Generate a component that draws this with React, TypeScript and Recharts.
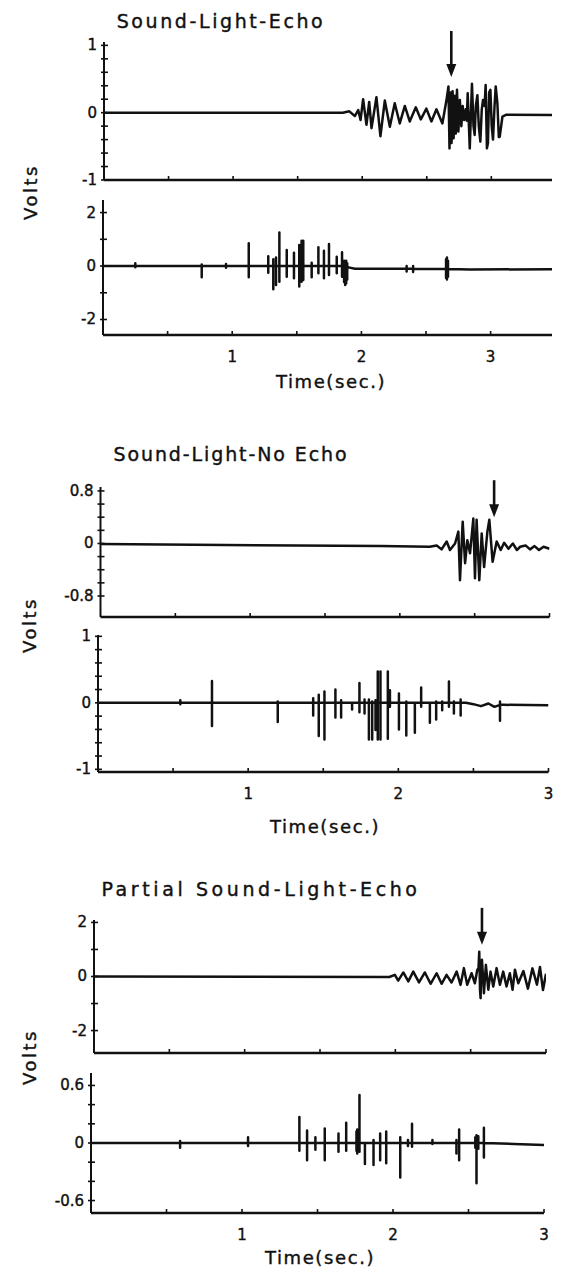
import React from 'react';
import { LineChart, Line, XAxis, YAxis, ReferenceDot } from 'recharts';

type Pt = [number, number];
// t, high, low, baseline (defaults to 0)
type Spike = [number, number, number, number?];

const INK = '#111';
const FONT = "'DejaVu Sans', sans-serif";

// ---- Sound-Light-Echo ----
const echoTopWave: Pt[] = [
  [0, 0], [1.85, 0], [1.9, 0.02], [1.943, -0.05], [1.969, 0.04], [1.987, -0.11],
  [2.007, 0.2], [2.033, -0.18], [2.054, 0.16], [2.072, -0.23], [2.11, 0.23], [2.141, -0.35],
  [2.175, 0.18], [2.214, -0.21], [2.252, 0.14], [2.291, -0.16], [2.33, 0.1], [2.368, -0.13],
  [2.415, 0.08], [2.454, -0.1], [2.497, 0.06], [2.536, -0.13], [2.575, 0.05], [2.621, -0.16],
  [2.652, 0.18], [2.668, 0.39], [2.676, -0.53], [2.684, 0.3], [2.692, -0.45], [2.7, 0.32],
  [2.708, -0.38], [2.716, 0.25], [2.725, -0.31], [2.734, 0.34], [2.745, -0.28], [2.756, 0.19],
  [2.768, -0.2], [2.778, 0.1], [2.79, -0.11], [2.802, 0.05], [2.81, -0.12], [2.817, 0.29],
  [2.833, -0.53], [2.85, 0.43], [2.862, -0.2], [2.871, -0.33], [2.88, 0.1], [2.892, 0.26],
  [2.903, -0.2], [2.915, -0.43], [2.926, 0.05], [2.936, 0.19], [2.948, 0.1], [2.956, 0.41],
  [2.966, -0.53], [2.974, -0.45], [2.983, 0.3], [2.993, 0.34], [3.003, -0.2], [3.013, -0.4],
  [3.025, 0.1], [3.034, 0.39], [3.047, 0.14], [3.058, -0.36], [3.065, -0.36], [3.086, -0.06],
  [3.117, -0.03], [3.47, -0.035],
];
const echoBottomWave: Pt[] = [
  [0, 0], [1.86, 0], [1.9, -0.05], [1.95, -0.1], [2.4, -0.1], [2.84, -0.13], [3.475, -0.12],
];
const echoBottomSpikes: Spike[] = [
  [0.25, 0.1, -0.05], [0.764, 0.06, -0.42], [0.952, 0.08, -0.06], [1.128, 0.85, -0.42],
  [1.279, 0.37, -0.25], [1.318, 0.25, -0.87], [1.339, 0.32, -0.71], [1.365, 1.25, -0.59],
  [1.422, 0.6, -0.4], [1.478, 0.5, -0.46], [1.519, 0.79, -0.77], [1.537, 0.95, -0.59],
  [1.55, 0.95, -0.52], [1.615, 0.12, -0.42], [1.667, 0.7, -0.27], [1.71, 0.57, -0.46],
  [1.749, 0.82, -0.34], [1.809, 0.35, -0.27], [1.85, 0.52, -0.4], [1.866, 0.2, -0.6],
  [1.874, 0.15, -0.71], [1.882, 0.2, -0.65], [1.89, 0.1, -0.5],
  [2.35, 0, -0.2, -0.1], [2.4, 0, -0.22, -0.1],
  [2.655, 0.25, -0.45, -0.11], [2.662, 0.32, -0.5, -0.11], [2.67, 0.2, -0.4, -0.11],
];
const echoArrow = { t: 2.69, tip: 0.53, len: 46 };

// ---- Sound-Light-No Echo ----
const noEchoTopWave: Pt[] = [
  [0, -0.01], [1.87, -0.04], [2.2, -0.05], [2.246, -0.03], [2.279, -0.09], [2.313, 0.03],
  [2.335, -0.1], [2.369, 0], [2.391, 0.18], [2.402, -0.56], [2.42, 0.33], [2.436, -0.3],
  [2.451, 0.05], [2.469, -0.15], [2.491, 0.38], [2.502, -0.53], [2.513, 0.36], [2.531, -0.56],
  [2.547, 0.15], [2.563, -0.36], [2.585, 0.18], [2.598, 0.36], [2.62, -0.28], [2.647, 0.03],
  [2.674, -0.1], [2.697, 0.01], [2.726, -0.08], [2.755, 0], [2.782, -0.1], [2.804, -0.05],
  [2.84, -0.03], [2.87, -0.09], [2.9, -0.04], [2.93, -0.1], [2.96, -0.05], [3.0, -0.08],
];
const noEchoBottomWave: Pt[] = [
  [0, 0], [2.45, 0], [2.5, -0.02], [2.55, -0.05], [2.6, -0.01], [2.64, -0.06], [2.7, -0.03], [3.0, -0.035],
];
const noEchoBottomSpikes: Spike[] = [
  [0.548, 0.04, -0.02], [0.759, 0.33, -0.35], [1.197, 0.02, -0.29], [1.433, 0.07, -0.19],
  [1.47, 0.12, -0.5], [1.508, 0.17, -0.55], [1.581, 0.2, -0.22], [1.619, 0.04, -0.22],
  [1.692, -0.02, -0.1], [1.741, 0.3, -0.14], [1.775, 0.05, -0.16], [1.804, 0.05, -0.55],
  [1.826, 0.02, -0.55], [1.848, 0.04, -0.41], [1.863, 0.47, -0.55], [1.881, 0.47, -0.55],
  [1.93, 0.47, -0.54], [1.944, 0.19, -0.06], [2.004, 0.14, -0.4], [2.053, 0.02, -0.49],
  [2.11, 0, -0.45], [2.152, 0.23, -0.06], [2.21, 0, -0.3], [2.252, 0.02, -0.25],
  [2.292, 0.02, -0.11], [2.337, 0.32, -0.06], [2.37, 0.02, -0.16], [2.415, 0.05, -0.19],
  [2.677, 0.02, -0.27, -0.03],
];
const noEchoArrow = { t: 2.63, tip: 0.4, len: 37 };

// ---- Partial Sound-Light-Echo ----
const partialTopWave: Pt[] = [
  [0, 0], [1.96, -0.02], [1.997, 0.06], [2.019, -0.15], [2.053, 0.15], [2.086, -0.18],
  [2.119, 0.18], [2.157, -0.22], [2.196, 0.15], [2.234, -0.27], [2.274, 0.12], [2.307, -0.27],
  [2.34, 0.06], [2.373, -0.22], [2.407, 0.18], [2.433, -0.31], [2.455, 0.31], [2.477, -0.31],
  [2.506, 0.12], [2.528, -0.25], [2.544, 0.25], [2.552, 0.3], [2.557, 0.92], [2.562, -0.5],
  [2.566, -0.8], [2.57, 0.5], [2.575, 0.62], [2.588, -0.62], [2.601, 0.43], [2.617, -0.49],
  [2.632, 0.18], [2.65, -0.37], [2.672, 0.31], [2.694, -0.31], [2.716, 0.18], [2.738, -0.37],
  [2.76, 0.12], [2.778, -0.49], [2.794, 0.25], [2.816, -0.25], [2.85, 0.2], [2.88, -0.45],
  [2.91, 0.3], [2.94, -0.3], [2.96, 0.35], [2.98, -0.5], [3.0, 0.1],
];
const partialBottomWave: Pt[] = [
  [0, 0], [2.8, -0.01], [3.0, -0.02],
];
const partialBottomSpikes: Spike[] = [
  [0.59, 0.02, -0.05], [1.04, 0.06, -0.03], [1.38, 0.27, -0.08], [1.431, 0.13, -0.18],
  [1.486, 0.06, -0.07], [1.548, 0.15, -0.18], [1.639, 0.1, -0.09], [1.69, 0.21, -0.08],
  [1.758, 0.12, -0.08], [1.763, 0.14, -0.11], [1.778, 0.5, -0.09], [1.814, 0, -0.22],
  [1.871, 0.03, -0.23], [1.915, 0.1, -0.18], [1.955, 0.12, -0.21], [2.048, 0.06, -0.36],
  [2.099, 0.03, -0.03], [2.126, 0.2, -0.04], [2.261, 0.03, -0.01], [2.42, 0.03, -0.11],
  [2.438, 0.14, -0.18], [2.545, 0.06, -0.05], [2.553, 0.08, -0.42], [2.565, 0.07, -0.06],
  [2.602, 0.16, -0.15],
];
const partialArrow = { t: 2.575, tip: 1.17, len: 37 };

// ---- axis ticks ----
const timeTicks = [0.5, 1, 1.5, 2, 2.5, 3];
const timeLabels: [number, string][] = [[1, '1'], [2, '2'], [3, '3']];
const echoTopTicks = [-1, -0.8, -0.6, -0.4, -0.2, 0, 0.2, 0.4, 0.6, 0.8, 1];
const echoTopLabels: [number, string][] = [[1, '1'], [0, '0'], [-1, '-1']];
const echoBottomTicks = [-2, -1, 0, 1, 2];
const echoBottomLabels: [number, string][] = [[2, '2'], [0, '0'], [-2, '-2']];
const noEchoTopTicks = [-0.8, -0.6, -0.4, -0.2, 0, 0.2, 0.4, 0.6, 0.8];
const noEchoTopLabels: [number, string][] = [[0.8, '0.8'], [0, '0'], [-0.8, '-0.8']];
const noEchoBottomTicks = [-1, -0.8, -0.6, -0.4, -0.2, 0, 0.2, 0.4, 0.6, 0.8, 1];
const noEchoBottomLabels: [number, string][] = [[1, '1'], [0, '0'], [-1, '-1']];
const partialTopTicks = [-2, -1, 0, 1, 2];
const partialTopLabels: [number, string][] = [[2, '2'], [0, '0'], [-2, '-2']];
const partialBottomTicks = [-0.6, -0.4, -0.2, 0, 0.2, 0.4, 0.6];
const partialBottomLabels: [number, string][] = [[0.6, '0.6'], [0, '0'], [-0.6, '-0.6']];

function buildSeries(wave: Pt[], spikes: Spike[] = []) {
  const rows: { t: number; v: number }[] = wave.map(([t, v]) => ({ t, v }));
  spikes.forEach(([t, hi, lo, base = 0]) => {
    rows.push({ t, v: base }, { t, v: hi }, { t, v: lo }, { t, v: base });
  });
  return rows.sort((a, b) => a.t - b.t);
}

const labelFor = (labels: [number, string][], v: number) => {
  const hit = labels.find(([k]) => Math.abs(k - v) < 1e-6);
  return hit ? hit[1] : null;
};

const YTick = ({ x, y, payload, labels }: any) => {
  const text = labelFor(labels, payload.value);
  return (
    <g>
      <line x1={x - 3} x2={x + 4} y1={y} y2={y} stroke={INK} strokeWidth={1.6} />
      {text && (
        <text x={x - 7} y={y} dy={5} textAnchor="end" fill={INK} stroke={INK} strokeWidth={0.4}
          fontSize={15} fontFamily={FONT}>
          {text}
        </text>
      )}
    </g>
  );
};

const XTick = ({ x, y, payload, labels }: any) => {
  const text = labelFor(labels, payload.value);
  return (
    <g>
      <line x1={x} x2={x} y1={y} y2={y - 4} stroke={INK} strokeWidth={1.6} />
      {text && (
        <text x={x} y={y + 22} dy={5} textAnchor="middle" fill={INK} stroke={INK} strokeWidth={0.4}
          fontSize={15} fontFamily={FONT}>
          {text}
        </text>
      )}
    </g>
  );
};

const Arrow = ({ cx, cy, len }: any) => (
  <g>
    <line x1={cx} x2={cx} y1={cy - len} y2={cy - 10} stroke={INK} strokeWidth={2.6} />
    <polygon points={`${cx - 5},${cy - 13} ${cx + 5},${cy - 13} ${cx},${cy}`} fill={INK} />
  </g>
);

interface TraceProps {
  box: { left: number; right: number; top: number; bottom: number };
  data: { t: number; v: number }[];
  xMax: number;
  yDomain: [number, number];
  yTicks: number[];
  yLabels: [number, string][];
  xLabels: [number, string][];
  arrow?: { t: number; tip: number; len: number };
}

function Trace({ box, data, xMax, yDomain, yTicks, yLabels, xLabels, arrow }: TraceProps) {
  const padTop = 24;
  const padBottom = 50;
  const height = box.bottom - box.top + padTop + padBottom;
  return (
    <div style={{ position: 'absolute', left: 0, top: box.top - padTop }}>
      <LineChart
        width={564}
        height={height}
        data={data}
        margin={{ top: padTop, right: 564 - box.right, bottom: padBottom - 30, left: box.left - 40 }}
        style={{ overflow: 'visible' }}
      >
        <XAxis
          type="number"
          dataKey="t"
          domain={[0, xMax]}
          ticks={timeTicks}
          interval={0}
          height={30}
          allowDataOverflow
          axisLine={{ stroke: INK, strokeWidth: 2.5 }}
          tickLine={false}
          tickSize={0}
          tickMargin={0}
          tick={(p: any) => <XTick {...p} labels={xLabels} />}
        />
        <YAxis
          type="number"
          domain={yDomain}
          ticks={yTicks}
          interval={0}
          width={40}
          allowDataOverflow
          axisLine={{ stroke: INK, strokeWidth: 2 }}
          tickLine={false}
          tickSize={0}
          tickMargin={0}
          tick={(p: any) => <YTick {...p} labels={yLabels} />}
        />
        <Line
          type="linear"
          dataKey="v"
          stroke={INK}
          strokeWidth={2.5}
          strokeLinejoin="round"
          dot={false}
          isAnimationActive={false}
        />
        {arrow && (
          <ReferenceDot
            x={arrow.t}
            y={arrow.tip}
            ifOverflow="visible"
            shape={(p: any) => <Arrow cx={p.cx} cy={p.cy} len={arrow.len} />}
          />
        )}
      </LineChart>
    </div>
  );
}

const textStyle: React.CSSProperties = {
  position: 'absolute',
  fontFamily: FONT,
  color: INK,
  whiteSpace: 'nowrap',
  lineHeight: 1,
  WebkitTextStroke: '0.4px #111',
};

const Title = ({ cx, cy, text, spacing }: { cx: number; cy: number; text: string; spacing: number }) => (
  <div style={{ ...textStyle, left: cx - 200, width: 400, top: cy - 10, textAlign: 'center', fontSize: 19, letterSpacing: spacing }}>
    {text}
  </div>
);

const TimeLabel = ({ cx, cy }: { cx: number; cy: number }) => (
  <div style={{ ...textStyle, left: cx - 100, width: 200, top: cy - 9, textAlign: 'center', fontSize: 18, letterSpacing: 1.6 }}>
    Time(sec.)
  </div>
);

const Volts = ({ cx, cy }: { cx: number; cy: number }) => (
  <div
    style={{
      ...textStyle,
      left: cx - 40,
      width: 80,
      top: cy - 9,
      textAlign: 'center',
      fontSize: 18,
      letterSpacing: 2.5,
      transform: 'rotate(-90deg)',
    }}
  >
    Volts
  </div>
);

export default function App() {
  return (
    <div style={{ position: 'absolute', left: 0, top: 0, width: 564, height: 1274, background: '#fff', overflow: 'hidden' }}>
      <Title cx={221} cy={22} text="Sound-Light-Echo" spacing={2.6} />
      <Trace
        box={{ left: 104, right: 552, top: 42, bottom: 180 }}
        data={buildSeries(echoTopWave)}
        xMax={3.47}
        yDomain={[-1, 1.05]}
        yTicks={echoTopTicks}
        yLabels={echoTopLabels}
        xLabels={[]}
        arrow={echoArrow}
      />
      <Trace
        box={{ left: 103, right: 552, top: 200, bottom: 335 }}
        data={buildSeries(echoBottomWave, echoBottomSpikes)}
        xMax={3.475}
        yDomain={[-2.58, 2.47]}
        yTicks={echoBottomTicks}
        yLabels={echoBottomLabels}
        xLabels={timeLabels}
      />
      <Volts cx={31} cy={192} />
      <TimeLabel cx={331} cy={382} />

      <Title cx={231} cy={455} text="Sound-Light-No Echo" spacing={1.9} />
      <Trace
        box={{ left: 100.5, right: 549.5, top: 487, bottom: 617 }}
        data={buildSeries(noEchoTopWave)}
        xMax={3}
        yDomain={[-1.12, 0.86]}
        yTicks={noEchoTopTicks}
        yLabels={noEchoTopLabels}
        xLabels={[]}
        arrow={noEchoArrow}
      />
      <Trace
        box={{ left: 98, right: 548.5, top: 635, bottom: 772 }}
        data={buildSeries(noEchoBottomWave, noEchoBottomSpikes)}
        xMax={3}
        yDomain={[-1.04, 1.02]}
        yTicks={noEchoBottomTicks}
        yLabels={noEchoBottomLabels}
        xLabels={timeLabels}
      />
      <Volts cx={30} cy={625} />
      <TimeLabel cx={325} cy={827} />

      <Title cx={261} cy={890} text="Partial Sound-Light-Echo" spacing={3.6} />
      <Trace
        box={{ left: 94, right: 546, top: 920, bottom: 1053 }}
        data={buildSeries(partialTopWave)}
        xMax={3}
        yDomain={[-2.83, 2.09]}
        yTicks={partialTopTicks}
        yLabels={partialTopLabels}
        xLabels={[]}
        arrow={partialArrow}
      />
      <Trace
        box={{ left: 91, right: 544, top: 1073, bottom: 1213 }}
        data={buildSeries(partialBottomWave, partialBottomSpikes)}
        xMax={3}
        yDomain={[-0.73, 0.73]}
        yTicks={partialBottomTicks}
        yLabels={partialBottomLabels}
        xLabels={timeLabels}
      />
      <Volts cx={30} cy={1057} />
      <TimeLabel cx={320} cy={1258} />
    </div>
  );
}
